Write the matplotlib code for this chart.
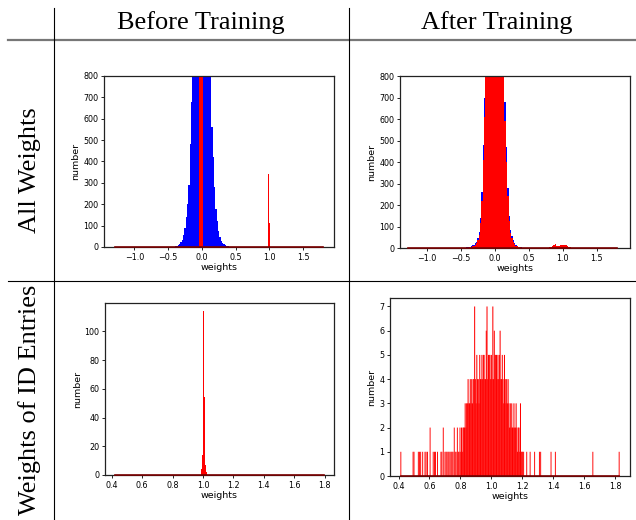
import numpy as np
import matplotlib
matplotlib.use("Agg")
import matplotlib.pyplot as plt
from matplotlib.lines import Line2D

# ---- data (bin counts) ----
# all weights, before training (blue, bins of 0.02 starting at -0.40)
blue_before_start = -0.40
blue_before = [3, 5, 9, 14, 22, 35, 55, 90, 140, 200,
               290, 480, 680, 900, 1350, 1650, 1900, 2050, 2150, 2200,
               2200, 2150, 2050, 1900, 1650, 1350, 880, 560, 420, 280,
               180, 120, 75, 45, 28, 18, 12, 8, 5, 3]
# ID entries inside all weights, before training (red, bins of 0.0125)
red_before_pos = [-0.03125, -0.01875, -0.00625, 0.00625, 0.01875, 0.99375, 1.00625]
red_before_n = [3000, 5000, 5000, 3000, 125, 340, 110]
all_range = (-1.28, 1.80)

# all weights, after training
blue_after_start = -0.46
blue_after = [1, 2, 3, 4, 6, 9, 12, 16, 22, 30,
              45, 75, 140, 260, 480, 700, 950, 1300, 1650, 1900,
              2050, 2150, 2200, 2200, 2150, 2050, 1900, 1650, 1300, 950,
              680, 470, 280, 150, 85, 55, 35, 22, 14, 9,
              6, 4, 3, 2, 1, 1]
red_after_start = -0.42
red_after = [1, 2, 3, 5, 7, 10, 15, 22, 35, 60,
             115, 220, 410, 610, 820, 1150, 1500, 1800, 2000, 2100,
             2150, 2150, 2100, 2000, 1800, 1500, 1150, 820, 590, 400,
             240, 125, 70, 45, 28, 18, 11, 7, 4, 3,
             2, 1]
red_bump_start = 0.80
red_bump = [3, 5, 8, 12, 18, 10, 9, 11, 12, 14, 15, 13, 12, 8, 5, 3, 2]

# weights of ID entries, before training
id_before_start = 0.98667
id_before = [4, 14, 114, 54, 7, 2]
id_before_range = (0.4245, 1.794)

# weights of ID entries, after training
id_core_start = 0.80
id_core_width = 0.0047
id_core = [1, 2, 1, 2, 2, 2, 3, 2, 3, 3,
           4, 3, 3, 4, 3, 4, 3, 4, 4, 7,
           4, 3, 5, 4, 4, 3, 5, 4, 4, 5,
           4, 5, 5, 4, 4, 6, 7, 4, 5, 5,
           5, 4, 5, 4, 7, 4, 6, 5, 5, 5,
           4, 5, 4, 5, 6, 4, 4, 5, 4, 3,
           5, 4, 3, 4, 3, 4, 3, 2, 3, 2,
           3, 2, 2, 3, 2, 2, 3, 2, 1, 2,
           2, 1, 3, 1, 1]
id_tail_pos = [0.415, 0.494, 0.500, 0.528, 0.535, 0.543, 0.556, 0.571, 0.578, 0.587,
               0.604, 0.624, 0.632, 0.639, 0.652, 0.674, 0.680, 0.689, 0.700, 0.707,
               0.713, 0.720, 0.726, 0.733, 0.740, 0.746, 0.752, 0.760, 0.766, 0.772,
               0.780, 0.786, 0.791, 0.797,
               1.202, 1.208, 1.228, 1.250, 1.279, 1.310, 1.318, 1.385, 1.413, 1.655, 1.825]
id_tail_n = [1, 1, 1, 1, 1, 1, 1, 1, 1, 1,
             2, 1, 1, 1, 1, 1, 1, 2, 1, 1,
             1, 1, 1, 1, 1, 1, 1, 2, 1, 1,
             2, 1, 1, 2,
             1, 1, 1, 1, 1, 1, 1, 1, 1, 1, 1]
id_after_range = (0.415, 1.825)

col_titles = ["Before Training", "After Training"]
row_titles = ["All Weights", "Weights of ID Entries"]


def draw_hist(ax, start, width, counts, color, **kw):
    counts = np.asarray(counts, dtype=float)
    edges = start + width * np.arange(len(counts) + 1)
    ax.hist(edges[:-1], bins=edges, weights=counts, color=color, **kw)


def baseline(ax, rng):
    ax.plot(rng, [0, 0], color="#7a0000", lw=1.2, zorder=3, clip_on=False)


def style(ax):
    for s in ax.spines.values():
        s.set_color("#222222")
        s.set_linewidth(0.9)
    ax.tick_params(labelsize=5.8, length=2.5, width=0.6, pad=1.5)
    ax.set_xlabel("weights", fontsize=6.8, labelpad=1)
    ax.set_ylabel("number", fontsize=6.8, labelpad=2)


fig = plt.figure(figsize=(6.36, 5.2), dpi=100)
W, H = 636.0, 520.0


def axes_px(x0, y0, x1, y1):
    return fig.add_axes([x0 / W, 1 - y1 / H, (x1 - x0) / W, (y1 - y0) / H])


# top-left
ax = axes_px(104, 76, 334, 247)
draw_hist(ax, blue_before_start, 0.02, blue_before, "blue")
ax.bar(red_before_pos, red_before_n, width=0.0125, color="red", linewidth=0)
baseline(ax, all_range)
ax.set_xlim(-1.45, 1.96)
ax.set_ylim(0, 800)
ax.set_xticks([-1.0, -0.5, 0.0, 0.5, 1.0, 1.5])
style(ax)

# top-right
ax = axes_px(400, 76, 630, 248)
draw_hist(ax, blue_after_start, 0.02, blue_after, "blue")
draw_hist(ax, red_after_start, 0.02, red_after, "red")
draw_hist(ax, red_bump_start, 0.02, red_bump, "red")
baseline(ax, all_range)
ax.set_xlim(-1.40, 1.99)
ax.set_ylim(0, 800)
ax.set_xticks([-1.0, -0.5, 0.0, 0.5, 1.0, 1.5])
style(ax)

# bottom-left
ax = axes_px(105, 303, 334, 475)
draw_hist(ax, id_before_start, 0.00667, id_before, "red")
baseline(ax, id_before_range)
ax.set_xlim(0.356, 1.862)
ax.set_ylim(0, 119.7)
ax.set_yticks([0, 20, 40, 60, 80, 100])
ax.set_xticks(np.round(np.arange(0.4, 1.81, 0.2), 1))
style(ax)

# bottom-right
ax = axes_px(390, 298, 630, 476)
core_x = id_core_start + id_core_width * (np.arange(len(id_core)) + 0.5)
ax.bar(core_x, id_core, width=0.0066, color="red", linewidth=0, snap=False)
ax.bar(id_tail_pos, id_tail_n, width=0.0060, color="red", linewidth=0, snap=False)
baseline(ax, id_after_range)
ax.set_xlim(0.345, 1.895)
ax.set_ylim(0, 7.35)
ax.set_xticks(np.round(np.arange(0.4, 1.81, 0.2), 1))
style(ax)

# table frame
serif = "Liberation Serif"
fig.add_artist(Line2D([8 / W, 1], [1 - 40 / H] * 2, color="#777777", lw=1.6))
fig.add_artist(Line2D([8 / W, 1], [1 - 281 / H] * 2, color="black", lw=0.8))
for xv in (54, 349):
    fig.add_artist(Line2D([xv / W] * 2, [0, 1 - 8 / H], color="black", lw=0.8))

fig.text(201 / W, 1 - 22.5 / H, col_titles[0], family=serif, size=19, ha="center", va="center")
fig.text(497 / W, 1 - 22.5 / H, col_titles[1], family=serif, size=19, ha="center", va="center")
fig.text(30 / W, 1 - 170 / H, row_titles[0], family=serif, size=19, rotation=90,
         ha="center", va="center")
fig.text(30 / W, 1 - 400 / H, row_titles[1], family=serif, size=19, rotation=90,
         ha="center", va="center")

fig.savefig("out.png", dpi=100)
